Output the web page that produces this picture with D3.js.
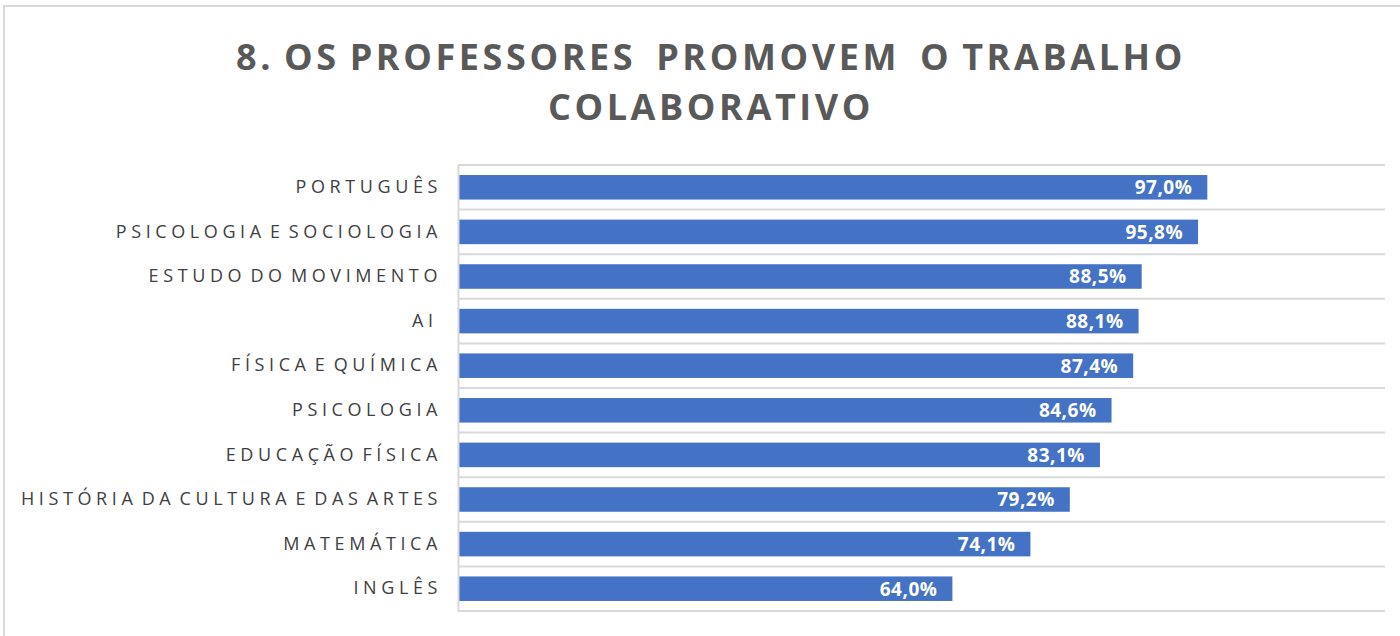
<!DOCTYPE html>
<html>
<head>
<meta charset="utf-8">
<script src="https://cdn.jsdelivr.net/npm/d3@7"></script>
<style>
  body { margin: 0; background: #fff; }
  svg { display: block; }
</style>
</head>
<body>
<div id="chart"></div>
<script>
// chart values
const categories = [
    "PORTUGUÊS", "PSICOLOGIA E SOCIOLOGIA", "ESTUDO DO MOVIMENTO", "AI ",
    "FÍSICA E QUÍMICA", "PSICOLOGIA", "EDUCAÇÃO FÍSICA",
    "HISTÓRIA DA CULTURA E DAS ARTES", "MATEMÁTICA", "INGLÊS"
];
const values = [0.970, 0.958, 0.885, 0.881, 0.874, 0.846, 0.831, 0.792, 0.741, 0.640];
const titleLines = ["8. OS PROFESSORES  PROMOVEM  O TRABALHO", "COLABORATIVO"];

const W = 1400, H = 636;
const margin = { top: 165, right: 15, bottom: 25, left: 458 };
const width = W - margin.left - margin.right,
    height = H - margin.top - margin.bottom;

const svg = d3.select("#chart")
    .append("svg")
    .attr("width", W)
    .attr("height", H);

// outer frame (only top and left are visible in the crop)
svg.append("path")
    .attr("d", `M4,${H} L4,6 L${W},6`)
    .attr("fill", "none")
    .attr("stroke", "#d9d9d9")
    .attr("stroke-width", 2);

// title
svg.append("g")
    .selectAll("text")
    .data(titleLines)
    .join("text")
    .attr("x", 711)
    .attr("y", (d, i) => 70 + i * 50)
    .attr("text-anchor", "middle")
    .style("white-space", "pre")
    .style("font-family", "'Open Sans', sans-serif")
    .style("font-weight", "bold")
    .style("font-size", "36px")
    .style("letter-spacing", "3.6px")
    .style("word-spacing", "-3px")
    .style("fill", "#595959")
    .text(d => d);

const g = svg.append("g")
    .attr("transform", `translate(${margin.left},${margin.top})`);

const x = d3.scaleLinear()
    .domain([0, 1.2])
    .range([0, width]);

const y = d3.scaleBand()
    .domain(categories)
    .range([0, height])
    .paddingInner(0.45)
    .paddingOuter(0.225);

// horizontal gridlines at category boundaries
const bounds = d3.range(categories.length + 1).map(i => i * height / categories.length);
g.selectAll(".grid")
    .data(bounds)
    .join("line")
    .attr("class", "grid")
    .attr("x1", 0)
    .attr("x2", width)
    .attr("y1", d => d)
    .attr("y2", d => d)
    .attr("stroke", "#d9d9d9")
    .attr("stroke-width", 2);

// bars
g.selectAll(".bar")
    .data(values)
    .join("rect")
    .attr("class", "bar")
    .attr("x", 0)
    .attr("y", (d, i) => y(categories[i]))
    .attr("width", d => x(d))
    .attr("height", y.bandwidth())
    .attr("fill", "#4472c4");

// value labels inside end
g.selectAll(".val")
    .data(values)
    .join("text")
    .attr("class", "val")
    .attr("x", d => x(d) - 15)
    .attr("y", (d, i) => y(categories[i]) + y.bandwidth() / 2)
    .attr("dy", "0.36em")
    .attr("text-anchor", "end")
    .style("font-family", "'Open Sans', sans-serif")
    .style("font-weight", "bold")
    .style("font-size", "19px")
    .style("letter-spacing", "0.5px")
    .style("fill", "#ffffff")
    .text(d => d3.format(".1f")(d * 100).replace(".", ",") + "%");

// y axis
const yAxis = g.append("g")
    .call(d3.axisLeft(y).tickSize(0).tickPadding(16));
yAxis.select(".domain")
    .attr("stroke", "#d9d9d9")
    .attr("stroke-width", 2);
yAxis.selectAll("text")
    .style("white-space", "pre")
    .style("font-family", "'Open Sans', sans-serif")
    .style("font-size", "18px")
    .style("letter-spacing", "4.6px")
    .style("word-spacing", "-5px")
    .style("fill", "#404040");
</script>
</body>
</html>
